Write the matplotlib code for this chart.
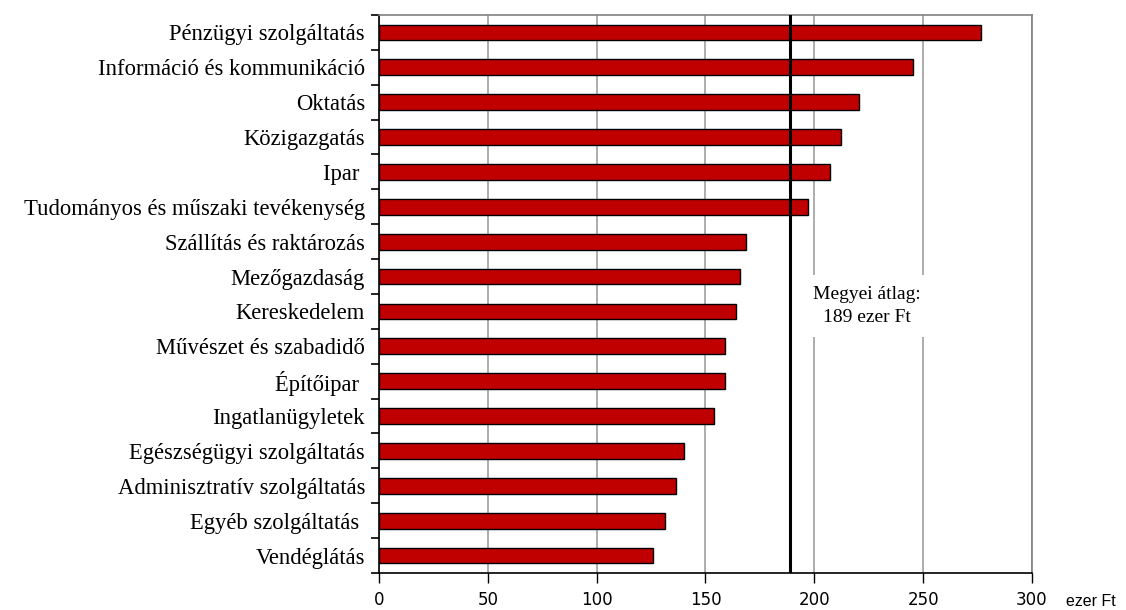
import matplotlib.pyplot as plt
import numpy as np

agak = [
    "Pénzügyi szolgáltatás",
    "Információ és kommunikáció",
    "Oktatás",
    "Közigazgatás",
    "Ipar ",
    "Tudományos és műszaki tevékenység",
    "Szállítás és raktározás",
    "Mezőgazdaság",
    "Kereskedelem",
    "Művészet és szabadidő",
    "Építőipar ",
    "Ingatlanügyletek",
    "Egészségügyi szolgáltatás",
    "Adminisztratív szolgáltatás",
    "Egyéb szolgáltatás ",
    "Vendéglátás",
]
kereset = [276.5, 245.3, 220.6, 212.4, 207.2, 197.0, 168.8, 165.9,
           164.1, 159.0, 159.0, 153.7, 140.2, 136.5, 131.2, 126.0]
atlag = 189
x_ticks = [0, 50, 100, 150, 200, 250, 300]

fig = plt.figure(figsize=(11.26, 6.10), dpi=100)
ax = fig.add_axes([0.3366, 0.0607, 0.5799, 0.9147])

y = np.arange(len(agak))
ax.barh(y, kereset, height=0.45, color='#c00000', edgecolor='black',
        linewidth=1.0, zorder=3)

ax.set_ylim(len(agak) - 0.5, -0.5)
ax.set_xlim(0, 300)

# kategória feliratok, tick-ek a határokon
ax.set_yticks(y)
ax.set_yticklabels(agak, family='Liberation Serif', fontsize=16.3)
ax.tick_params(axis='y', which='major', length=0, pad=10)
ax.set_yticks(np.arange(len(agak) + 1) - 0.5, minor=True)
ax.tick_params(axis='y', which='minor', length=6, width=1.2, direction='out')

ax.set_xticks(x_ticks)
ax.set_xticklabels([str(v) for v in x_ticks], family='DejaVu Sans', fontsize=12)
ax.tick_params(axis='x', length=7, width=1.0, direction='out', pad=6)

ax.grid(axis='x', color='#a0a0a0', linewidth=1.2, zorder=0)
ax.set_axisbelow(True)

for s in ['left', 'bottom']:
    ax.spines[s].set_color('black')
    ax.spines[s].set_linewidth(1.2)
for s in ['top', 'right']:
    ax.spines[s].set_color('#808080')
    ax.spines[s].set_linewidth(1.2)

ax.axvline(atlag, color='black', linewidth=2.2, zorder=4)

ax.text(224, 7.85, "Megyei átlag:\n189 ezer Ft", ha='center', va='center',
        family='Liberation Serif', fontsize=14, linespacing=1.45, zorder=5,
        bbox=dict(facecolor='white', edgecolor='none', pad=8))

fig.text(0.947, 0.002, "ezer Ft", family='Liberation Sans', fontsize=11.5,
         ha='left', va='bottom')

plt.savefig('out.png', dpi=100)
